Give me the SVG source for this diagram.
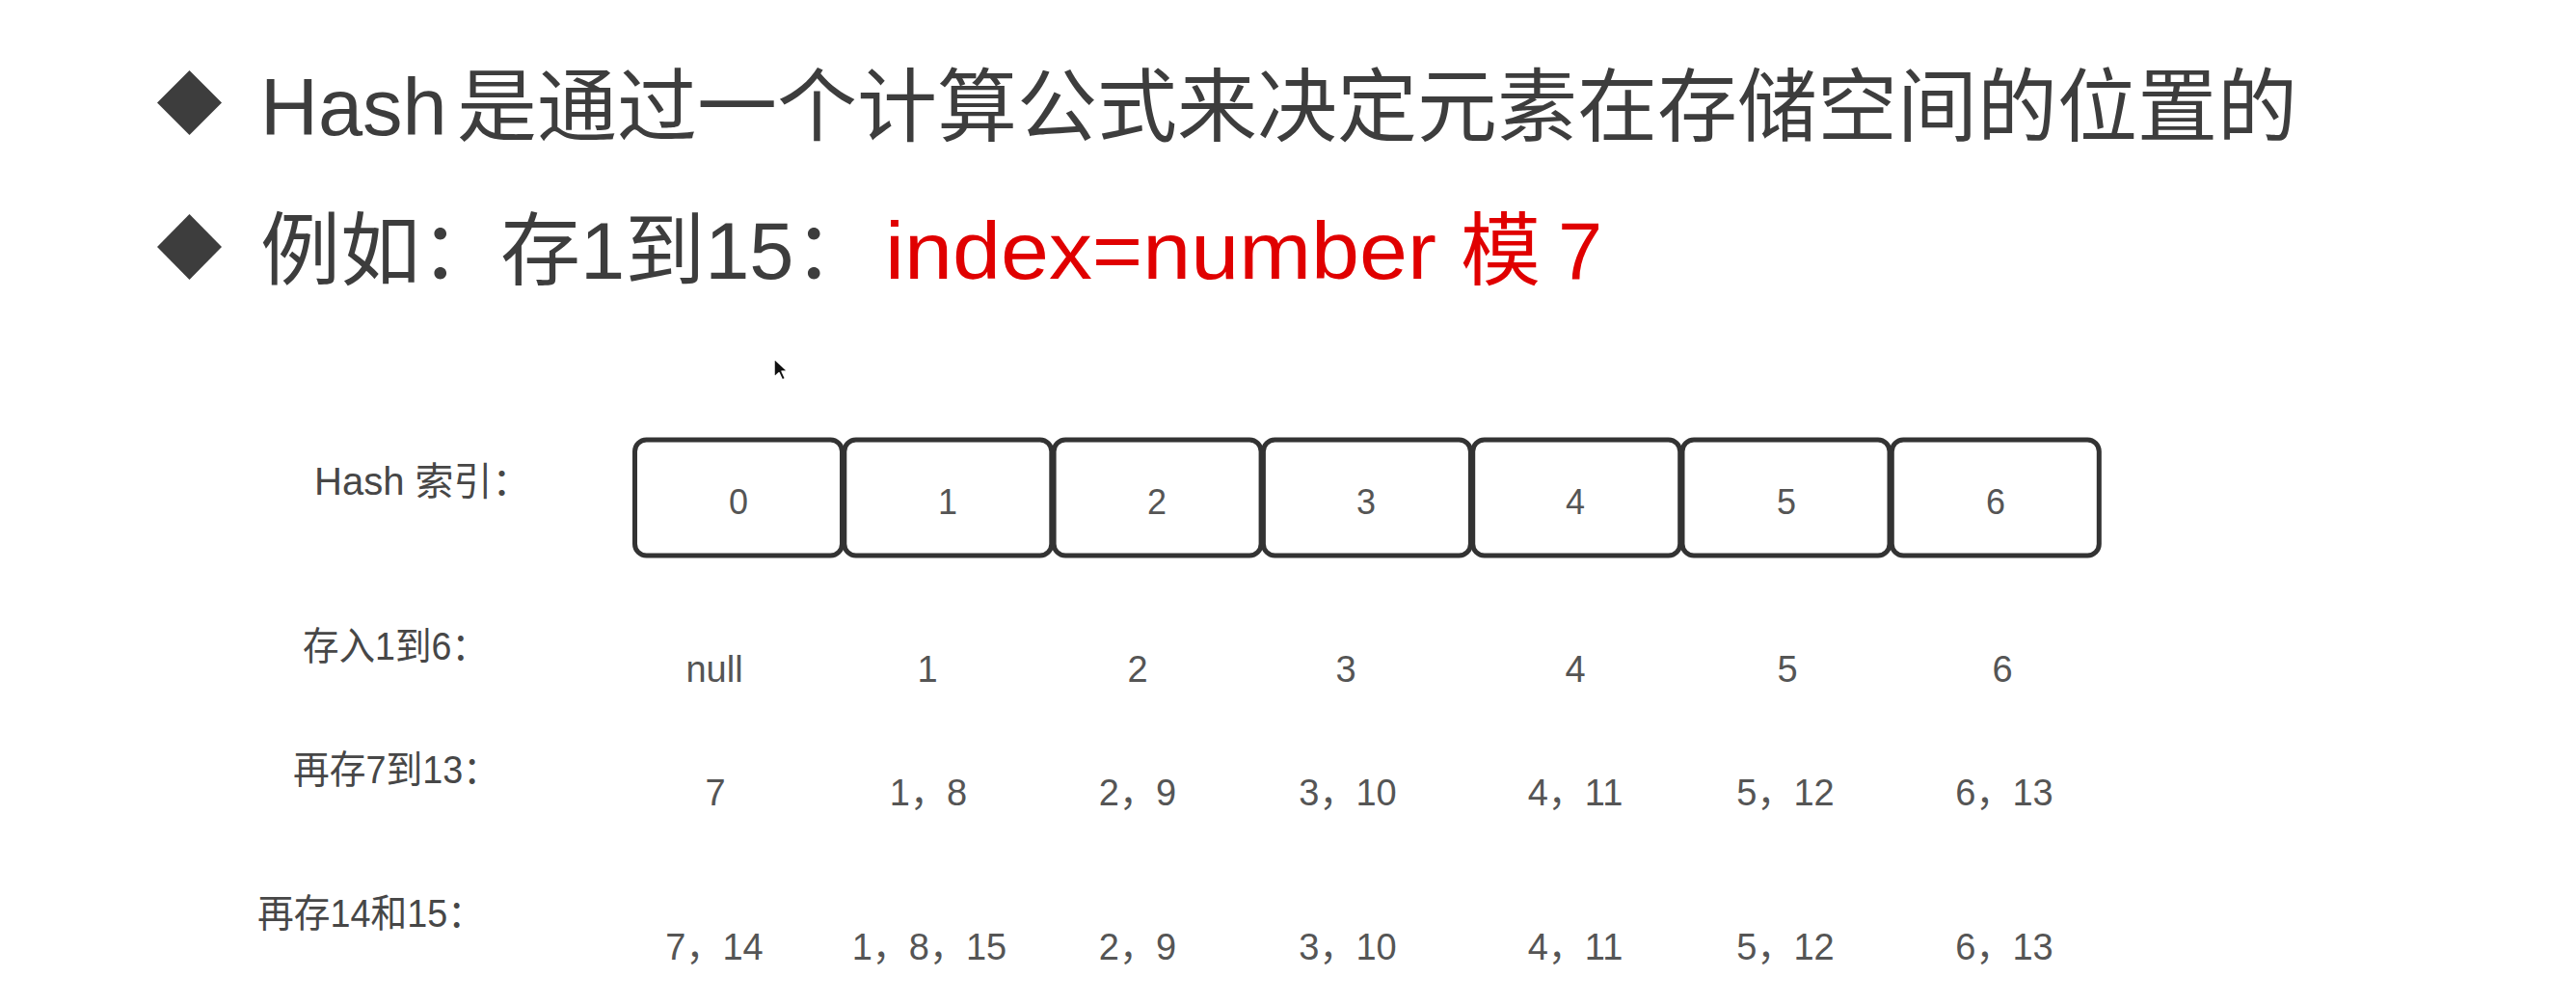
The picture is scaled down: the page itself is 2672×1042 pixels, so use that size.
<svg xmlns="http://www.w3.org/2000/svg" width="2672" height="1042" viewBox="0 0 2672 1042">
  <style>
    .title { font-family: "Liberation Sans", "Noto Sans CJK SC", sans-serif; font-size: 83px; fill: #3d3d3d; }
    .cjk { font-family: "Noto Sans CJK SC", sans-serif; }
    .red { fill: #e00000; }
    .lbl { font-family: "Liberation Sans", "Noto Sans CJK SC", sans-serif; font-size: 40px; fill: #474747; }
    .box { fill: #ffffff; stroke: #333333; stroke-width: 5; }
    .idx { font-family: "Liberation Sans", sans-serif; font-size: 36px; fill: #555555; text-anchor: middle; }
    .val { font-family: "Liberation Sans", "Noto Sans CJK SC", sans-serif; font-size: 38px; fill: #555555; text-anchor: middle; }
    .bullet { fill: #3d3d3d; }
  </style>
  <rect x="0" y="0" width="2672" height="1042" fill="#ffffff"/>

  <g id="heading1">
    <polygon class="bullet" points="196.5,73 230,106.5 196.5,140 163,106.5"/>
    <text class="title" x="270" y="140">Hash</text>
    <text class="title cjk" x="474" y="140">是通过一个计算公式来决定元素在存储空间的位置的</text>
  </g>

  <g id="heading2">
    <polygon class="bullet" points="196.5,222 230,256 196.5,290 163,256"/>
    <text class="title" x="270" y="289"><tspan class="cjk">例如：存</tspan>1<tspan class="cjk">到</tspan>15<tspan class="cjk">：</tspan></text>
    <text class="title red" x="918" y="289" textLength="572" lengthAdjust="spacingAndGlyphs">index=number</text>
    <text class="title red cjk" x="1515" y="289">模</text>
    <text class="title red" x="1616" y="289">7</text>
  </g>

  <g id="cursor">
    <polygon points="803,372 803,391 808,386.5 811.5,394 814.5,392.5 811,385 817,385" fill="#111111" stroke="#ffffff" stroke-width="1.5" stroke-linejoin="round"/>
  </g>

  <g id="row-labels">
    <text class="lbl" x="326" y="513">Hash 索引：</text>
    <text class="lbl" x="314" y="684" textLength="192" lengthAdjust="spacingAndGlyphs">存入1到6：</text>
    <text class="lbl" x="304" y="812" textLength="214" lengthAdjust="spacingAndGlyphs">再存7到13：</text>
    <text class="lbl" x="267" y="961" textLength="235" lengthAdjust="spacingAndGlyphs">再存14和15：</text>
  </g>

  <g id="bucket-0">
    <rect class="box" x="658.5" y="456" width="215" height="120" rx="12"/>
    <text class="idx" x="766" y="533">0</text>
  </g>
  <g id="bucket-1">
    <rect class="box" x="875.8" y="456" width="215" height="120" rx="12"/>
    <text class="idx" x="983" y="533">1</text>
  </g>
  <g id="bucket-2">
    <rect class="box" x="1093.1" y="456" width="215" height="120" rx="12"/>
    <text class="idx" x="1200" y="533">2</text>
  </g>
  <g id="bucket-3">
    <rect class="box" x="1310.4" y="456" width="215" height="120" rx="12"/>
    <text class="idx" x="1417" y="533">3</text>
  </g>
  <g id="bucket-4">
    <rect class="box" x="1527.7" y="456" width="215" height="120" rx="12"/>
    <text class="idx" x="1634" y="533">4</text>
  </g>
  <g id="bucket-5">
    <rect class="box" x="1745" y="456" width="215" height="120" rx="12"/>
    <text class="idx" x="1853" y="533">5</text>
  </g>
  <g id="bucket-6">
    <rect class="box" x="1962.3" y="456" width="215" height="120" rx="12"/>
    <text class="idx" x="2070" y="533">6</text>
  </g>

  <g id="row-1to6">
    <text class="val" x="741" y="707">null</text>
    <text class="val" x="962" y="707">1</text>
    <text class="val" x="1180" y="707">2</text>
    <text class="val" x="1396" y="707">3</text>
    <text class="val" x="1634" y="707">4</text>
    <text class="val" x="1854" y="707">5</text>
    <text class="val" x="2077" y="707">6</text>
  </g>

  <g id="row-7to13">
    <text class="val" x="742" y="835">7</text>
    <text class="val" x="963" y="835">1，8</text>
    <text class="val" x="1180" y="835">2，9</text>
    <text class="val" x="1398" y="835">3，10</text>
    <text class="val" x="1634" y="835">4，11</text>
    <text class="val" x="1852" y="835">5，12</text>
    <text class="val" x="2079" y="835">6，13</text>
  </g>

  <g id="row-14and15">
    <text class="val" x="741" y="995">7，14</text>
    <text class="val" x="964" y="995">1，8，15</text>
    <text class="val" x="1180" y="995">2，9</text>
    <text class="val" x="1398" y="995">3，10</text>
    <text class="val" x="1634" y="995">4，11</text>
    <text class="val" x="1852" y="995">5，12</text>
    <text class="val" x="2079" y="995">6，13</text>
  </g>
</svg>
